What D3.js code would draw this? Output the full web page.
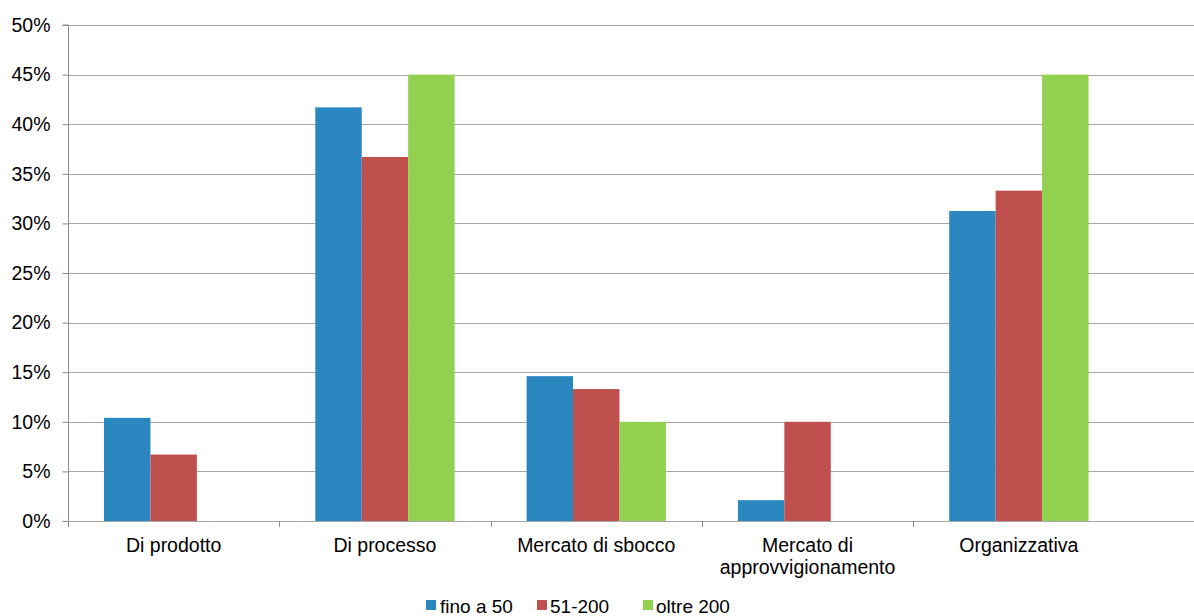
<!DOCTYPE html>
<html>
<head>
<meta charset="utf-8">
<script src="https://cdn.jsdelivr.net/npm/d3@7"></script>
<style>
  html, body { margin: 0; padding: 0; background: #fff; }
  svg { display: block; }
  text { font-family: "Liberation Sans", Arial, sans-serif; fill: #000; }
</style>
</head>
<body>
<svg id="chart" width="1194" height="616"></svg>
<script>
const categories = [
  ["Di prodotto"],
  ["Di processo"],
  ["Mercato di sbocco"],
  ["Mercato di", "approvvigionamento"],
  ["Organizzativa"]
];
const seriesNames = ["fino a 50", "51-200", "oltre 200"];
const seriesColors = ["#2A87BF", "#C0504D", "#92D050"];
const fino50 = [10.4, 41.7, 14.6, 2.1, 31.25];
const s51_200 = [6.7, 36.7, 13.3, 10.0, 33.3];
const oltre200 = [0, 45.0, 10.0, 0, 45.0];
const yTicks = [0, 5, 10, 15, 20, 25, 30, 35, 40, 45, 50];

const seriesValues = [fino50, s51_200, oltre200];
const svg = d3.select("#chart");

const plotLeft = 68, bandW = 211.3, plotTop = 25, plotBottom = 521;
const catKeys = categories.map(c => c.join(" "));
const x = d3.scaleBand().domain(catKeys).range([plotLeft, plotLeft + bandW * catKeys.length]).padding(0);
const xs = d3.scaleBand().domain(seriesNames).range([36, bandW - 36]).padding(0);
const y = d3.scaleLinear().domain([0, 50]).range([plotBottom, plotTop]);

// gridlines
svg.append("g").selectAll("line").data(yTicks.filter(d => d > 0)).join("line")
  .attr("x1", plotLeft).attr("x2", 1194)
  .attr("y1", d => Math.round(y(d)) + 0.5).attr("y2", d => Math.round(y(d)) + 0.5)
  .attr("stroke", "#a6a6a6").attr("stroke-width", 1);

// bars
categories.forEach((c, i) => {
  const key = catKeys[i];
  seriesNames.forEach((s, j) => {
    const v = seriesValues[j][i];
    if (v <= 0) return;
    svg.append("rect")
      .attr("x", x(key) + xs(s))
      .attr("width", xs.bandwidth())
      .attr("y", y(v))
      .attr("height", plotBottom - y(v))
      .attr("fill", seriesColors[j]);
  });
});

// y axis
const yAxis = d3.axisLeft(y).tickValues(yTicks).tickSize(6).tickPadding(12).tickFormat(d => d + "%");
const gy = svg.append("g").attr("transform", `translate(${plotLeft + 0.5},0)`).call(yAxis);
gy.select(".domain").attr("stroke", "#8c8c8c").attr("d", `M-6,${plotTop}H0V${plotBottom + 6}`);
gy.selectAll(".tick line").attr("stroke", "#8c8c8c");
gy.selectAll(".tick text").style("font-size", "19.5px").style("font-family", "'Liberation Sans', Arial, sans-serif").attr("fill", "#000");

// x axis baseline and ticks
svg.append("line").attr("x1", plotLeft).attr("x2", 1194)
  .attr("y1", plotBottom + 0.5).attr("y2", plotBottom + 0.5).attr("stroke", "#a6a6a6");
const bounds = d3.range(1, catKeys.length).map(i => plotLeft + i * bandW);
svg.append("g").selectAll("line").data(bounds).join("line")
  .attr("x1", d => Math.round(d) + 0.5).attr("x2", d => Math.round(d) + 0.5)
  .attr("y1", plotBottom).attr("y2", plotBottom + 6).attr("stroke", "#8c8c8c");

// category labels
categories.forEach((c, i) => {
  const cx = x(catKeys[i]) + bandW / 2;
  const t = svg.append("text").attr("text-anchor", "middle").style("font-size", "19.5px");
  c.forEach((line, k) => {
    t.append("tspan").attr("x", cx).attr("y", 552 + k * 22).text(line);
  });
});

// legend
const legendItems = [
  { sx: 426, tx: 440 },
  { sx: 537, tx: 550 },
  { sx: 643, tx: 656 }
];
seriesNames.forEach((s, j) => {
  svg.append("rect").attr("x", legendItems[j].sx).attr("y", 600).attr("width", 10).attr("height", 10).attr("fill", seriesColors[j]);
  svg.append("text").attr("x", legendItems[j].tx).attr("y", 613).style("font-size", "19px").text(s);
});
</script>
</body>
</html>
